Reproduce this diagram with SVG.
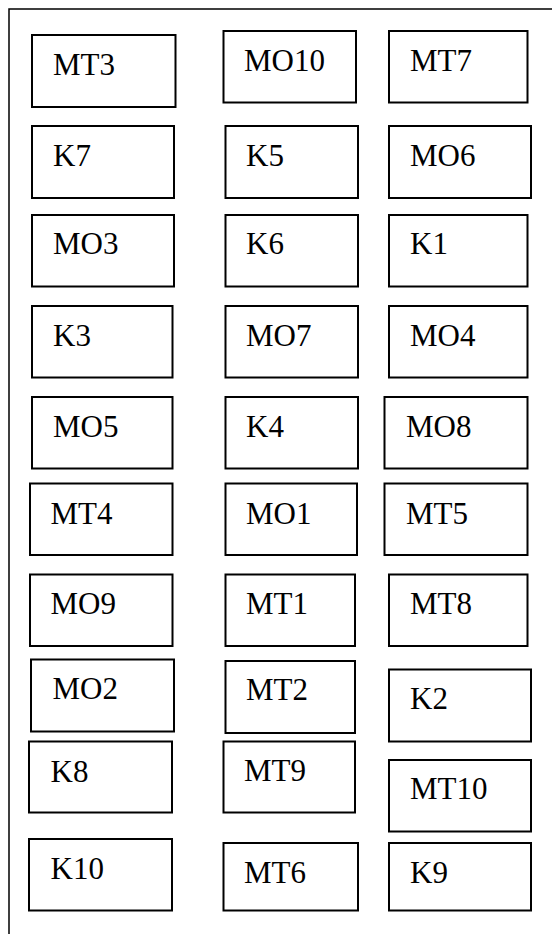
<svg xmlns="http://www.w3.org/2000/svg" width="552" height="934" viewBox="0 0 552 934">
<style>
.b{fill:#fff;stroke:#000;stroke-width:2}
.f{fill:none;stroke:#000;stroke-width:1.5}
text{font-family:"Liberation Serif","Times New Roman",serif;font-size:31px;fill:#000}
</style>
<rect x="0" y="0" width="552" height="934" fill="#fff"/>
<rect class="f" x="9" y="9" width="600" height="1000"/>
<g id="connectors"></g>
<g id="MT3"><rect class="b" x="32" y="35" width="143.5" height="72"/><text x="53" y="75">MT3</text></g>
<g id="MO10"><rect class="b" x="223.5" y="31" width="132.5" height="71.5"/><text x="244" y="71">MO10</text></g>
<g id="MT7"><rect class="b" x="389" y="31" width="138.5" height="71.5"/><text x="410" y="71">MT7</text></g>
<g id="K7"><rect class="b" x="32" y="126" width="142" height="72"/><text x="53" y="166">K7</text></g>
<g id="K5"><rect class="b" x="225.5" y="126" width="132.5" height="72"/><text x="246" y="166">K5</text></g>
<g id="MO6"><rect class="b" x="389" y="126" width="142" height="72"/><text x="410" y="166">MO6</text></g>
<g id="MO3"><rect class="b" x="32" y="215" width="142" height="71.5"/><text x="53" y="254">MO3</text></g>
<g id="K6"><rect class="b" x="225.5" y="215" width="132.5" height="71.5"/><text x="246" y="254">K6</text></g>
<g id="K1"><rect class="b" x="389" y="215" width="138.5" height="71.5"/><text x="410" y="254">K1</text></g>
<g id="K3"><rect class="b" x="32" y="306" width="140.5" height="71.5"/><text x="53" y="346">K3</text></g>
<g id="MO7"><rect class="b" x="225.5" y="306" width="132.5" height="71.5"/><text x="246" y="346">MO7</text></g>
<g id="MO4"><rect class="b" x="389" y="306" width="138.5" height="71.5"/><text x="410" y="346">MO4</text></g>
<g id="MO5"><rect class="b" x="32" y="397" width="140.5" height="71.5"/><text x="53" y="437">MO5</text></g>
<g id="K4"><rect class="b" x="225.5" y="397" width="132.5" height="71.5"/><text x="246" y="437">K4</text></g>
<g id="MO8"><rect class="b" x="384.5" y="397" width="143" height="71.5"/><text x="406" y="437">MO8</text></g>
<g id="MT4"><rect class="b" x="30" y="483.5" width="142.5" height="71.5"/><text x="50.5" y="524">MT4</text></g>
<g id="MO1"><rect class="b" x="225.5" y="483.5" width="131.5" height="71.5"/><text x="246" y="524">MO1</text></g>
<g id="MT5"><rect class="b" x="384.5" y="483.5" width="143" height="71.5"/><text x="406" y="524">MT5</text></g>
<g id="MO9"><rect class="b" x="30" y="574.5" width="142.5" height="71.5"/><text x="50.5" y="614">MO9</text></g>
<g id="MT1"><rect class="b" x="225.5" y="574.5" width="129.5" height="71.5"/><text x="246" y="614">MT1</text></g>
<g id="MT8"><rect class="b" x="389" y="574.5" width="138.5" height="71.5"/><text x="410" y="614">MT8</text></g>
<g id="MO2"><rect class="b" x="31" y="659.5" width="143" height="72"/><text x="52.5" y="699">MO2</text></g>
<g id="MT2"><rect class="b" x="225.5" y="661" width="129.5" height="72"/><text x="246" y="700">MT2</text></g>
<g id="K2"><rect class="b" x="389" y="669.5" width="142" height="72"/><text x="410" y="709">K2</text></g>
<g id="K8"><rect class="b" x="29" y="741.5" width="143" height="71"/><text x="50.5" y="782">K8</text></g>
<g id="MT9"><rect class="b" x="223.5" y="741.5" width="131.5" height="71"/><text x="244" y="781">MT9</text></g>
<g id="MT10"><rect class="b" x="389" y="760" width="142" height="71.5"/><text x="410" y="799">MT10</text></g>
<g id="K10"><rect class="b" x="29" y="839" width="143" height="71.5"/><text x="50.5" y="879">K10</text></g>
<g id="MT6"><rect class="b" x="223.5" y="843" width="134.5" height="67.5"/><text x="244" y="883">MT6</text></g>
<g id="K9"><rect class="b" x="389" y="843" width="142" height="67.5"/><text x="410" y="883">K9</text></g>
</svg>
